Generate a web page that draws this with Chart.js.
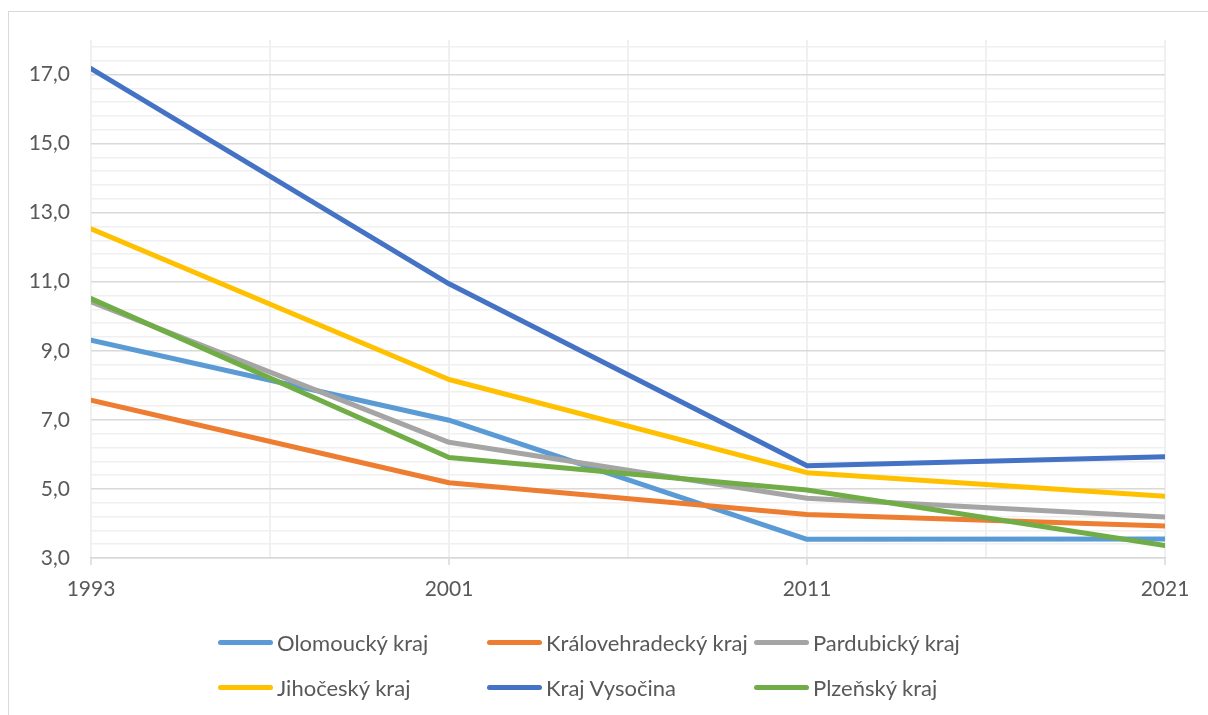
<!DOCTYPE html>
<html lang="cs">
<head>
<meta charset="utf-8">
<title>Kraje 1993–2021</title>
<script src="https://cdn.jsdelivr.net/npm/chart.js@4/dist/chart.umd.min.js"></script>
<style>
    html, body { margin: 0; padding: 0; background: #fff; }
    body { width: 1208px; height: 715px; position: relative; overflow: hidden; font-family: 'Lato', sans-serif; }
    #frame { position: absolute; left: 8px; top: 11px; width: 1220px; height: 720px; border: 1.5px solid #d9d9d9; box-sizing: border-box; }
    #chart-wrap { position: absolute; left: 0; top: 0; width: 1208px; height: 715px; }
    #legend { position: absolute; left: 218px; top: 620px; display: grid; grid-template-columns: 269px 267px 267px; grid-auto-rows: 45px; }
    .legend-item { display: flex; align-items: center; color: #595959; font-size: 22px; white-space: nowrap; }
    .legend-line { display: inline-block; width: 55px; height: 5px; border-radius: 3px; margin-right: 4px; }
</style>
</head>
<body>
<div id="frame"></div>
<div id="chart-wrap"><canvas id="line-chart" width="1208" height="715"></canvas></div>
<div id="legend"></div>
<script>
// Data
const years = ['1993', '2001', '2011', '2021'];

const seriesNames = ['Olomoucký kraj', 'Královehradecký kraj', 'Pardubický kraj', 'Jihočeský kraj', 'Kraj Vysočina', 'Plzeňský kraj'];
const seriesColors = ['#5B9BD5', '#ED7D31', '#A5A5A5', '#FFC000', '#4472C4', '#70AD47'];

const olomoucky = [9.31, 6.99, 3.54, 3.55];
const kralovehradecky = [7.57, 5.18, 4.26, 3.93];
const pardubicky = [10.42, 6.35, 4.73, 4.19];
const jihocesky = [12.53, 8.17, 5.47, 4.79];
const vysocina = [17.17, 10.94, 5.67, 5.93];
const plzensky = [10.51, 5.91, 4.97, 3.36];

const seriesValues = [olomoucky, kralovehradecky, pardubicky, jihocesky, vysocina, plzensky];

// Axis setup: labelled y ticks every 2, light minor lines every 0.4
const yMin = 3;
const yMax = 18;
const yLabelTicks = [3, 5, 7, 9, 11, 13, 15, 17];
const yMinorStep = 0.4;
const xMinorStep = 0.5;

const textColor = '#595959';
const majorGrid = '#d9d9d9';
const minorGrid = '#f0f0f0';

function isMajorY(v) {
    return yLabelTicks.some(t => Math.abs(t - v) < 1e-6);
}
function isMajorX(v) {
    return Math.abs(v - Math.round(v)) < 1e-6;
}

const datasets = seriesNames.map((name, i) => ({
    label: name,
    data: seriesValues[i].map((v, j) => ({ x: j, y: v })),
    borderColor: seriesColors[i],
    backgroundColor: seriesColors[i],
    borderWidth: 5,
    borderCapStyle: 'round',
    borderJoinStyle: 'round',
    pointRadius: 0,
    tension: 0,
    fill: false,
    order: seriesNames.length - i // later series drawn on top, like Excel
}));

const ctx = document.getElementById('line-chart').getContext('2d');
new Chart(ctx, {
    type: 'line',
    data: { datasets: datasets },
    options: {
        responsive: false,
        animation: false,
        layout: { padding: { left: 0, top: 40, right: 43, bottom: 107 } },
        plugins: {
            legend: { display: false },
            tooltip: { enabled: false }
        },
        scales: {
            x: {
                type: 'linear',
                min: 0,
                max: years.length - 1,
                afterBuildTicks: (scale) => {
                    const ticks = [];
                    for (let v = 0; v <= years.length - 1 + 1e-6; v += xMinorStep) ticks.push({ value: v });
                    scale.ticks = ticks;
                },
                afterFit: (scale) => { scale.height = 50; },
                grid: {
                    color: minorGrid,
                    lineWidth: 2,
                    drawTicks: true,
                    tickLength: 7,
                    tickColor: (c) => (c.tick && isMajorX(c.tick.value)) ? majorGrid : 'rgba(0,0,0,0)',
                    tickWidth: 1.5
                },
                border: { display: true, color: majorGrid, width: 1.5 },
                ticks: {
                    autoSkip: false,
                    maxRotation: 0,
                    padding: 12,
                    color: textColor,
                    font: { family: 'Lato', size: 21 },
                    callback: (v) => isMajorX(v) ? years[Math.round(v)] : ''
                }
            },
            y: {
                type: 'linear',
                min: yMin,
                max: yMax,
                afterBuildTicks: (scale) => {
                    const ticks = [];
                    for (let k = 0; yMin + k * yMinorStep < yMax - 1e-6; k++) {
                        ticks.push({ value: Math.round((yMin + k * yMinorStep) * 10) / 10 });
                    }
                    scale.ticks = ticks;
                },
                afterFit: (scale) => { scale.width = 91; },
                grid: {
                    drawTicks: false,
                    color: (c) => (c.tick && isMajorY(c.tick.value)) ? majorGrid : minorGrid,
                    lineWidth: 1.5
                },
                border: { display: false },
                ticks: {
                    autoSkip: false,
                    padding: 21,
                    color: textColor,
                    font: { family: 'Lato', size: 21 },
                    callback: (v) => isMajorY(v) ? v.toFixed(1).replace('.', ',') : ''
                }
            }
        }
    }
});

// Legend in Excel-like columns
const legendEl = document.getElementById('legend');
seriesNames.forEach((name, i) => {
    const item = document.createElement('div');
    item.className = 'legend-item';
    item.innerHTML = `<span class="legend-line" style="background:${seriesColors[i]}"></span><span>${name}</span>`;
    legendEl.appendChild(item);
});
</script>
</body>
</html>
